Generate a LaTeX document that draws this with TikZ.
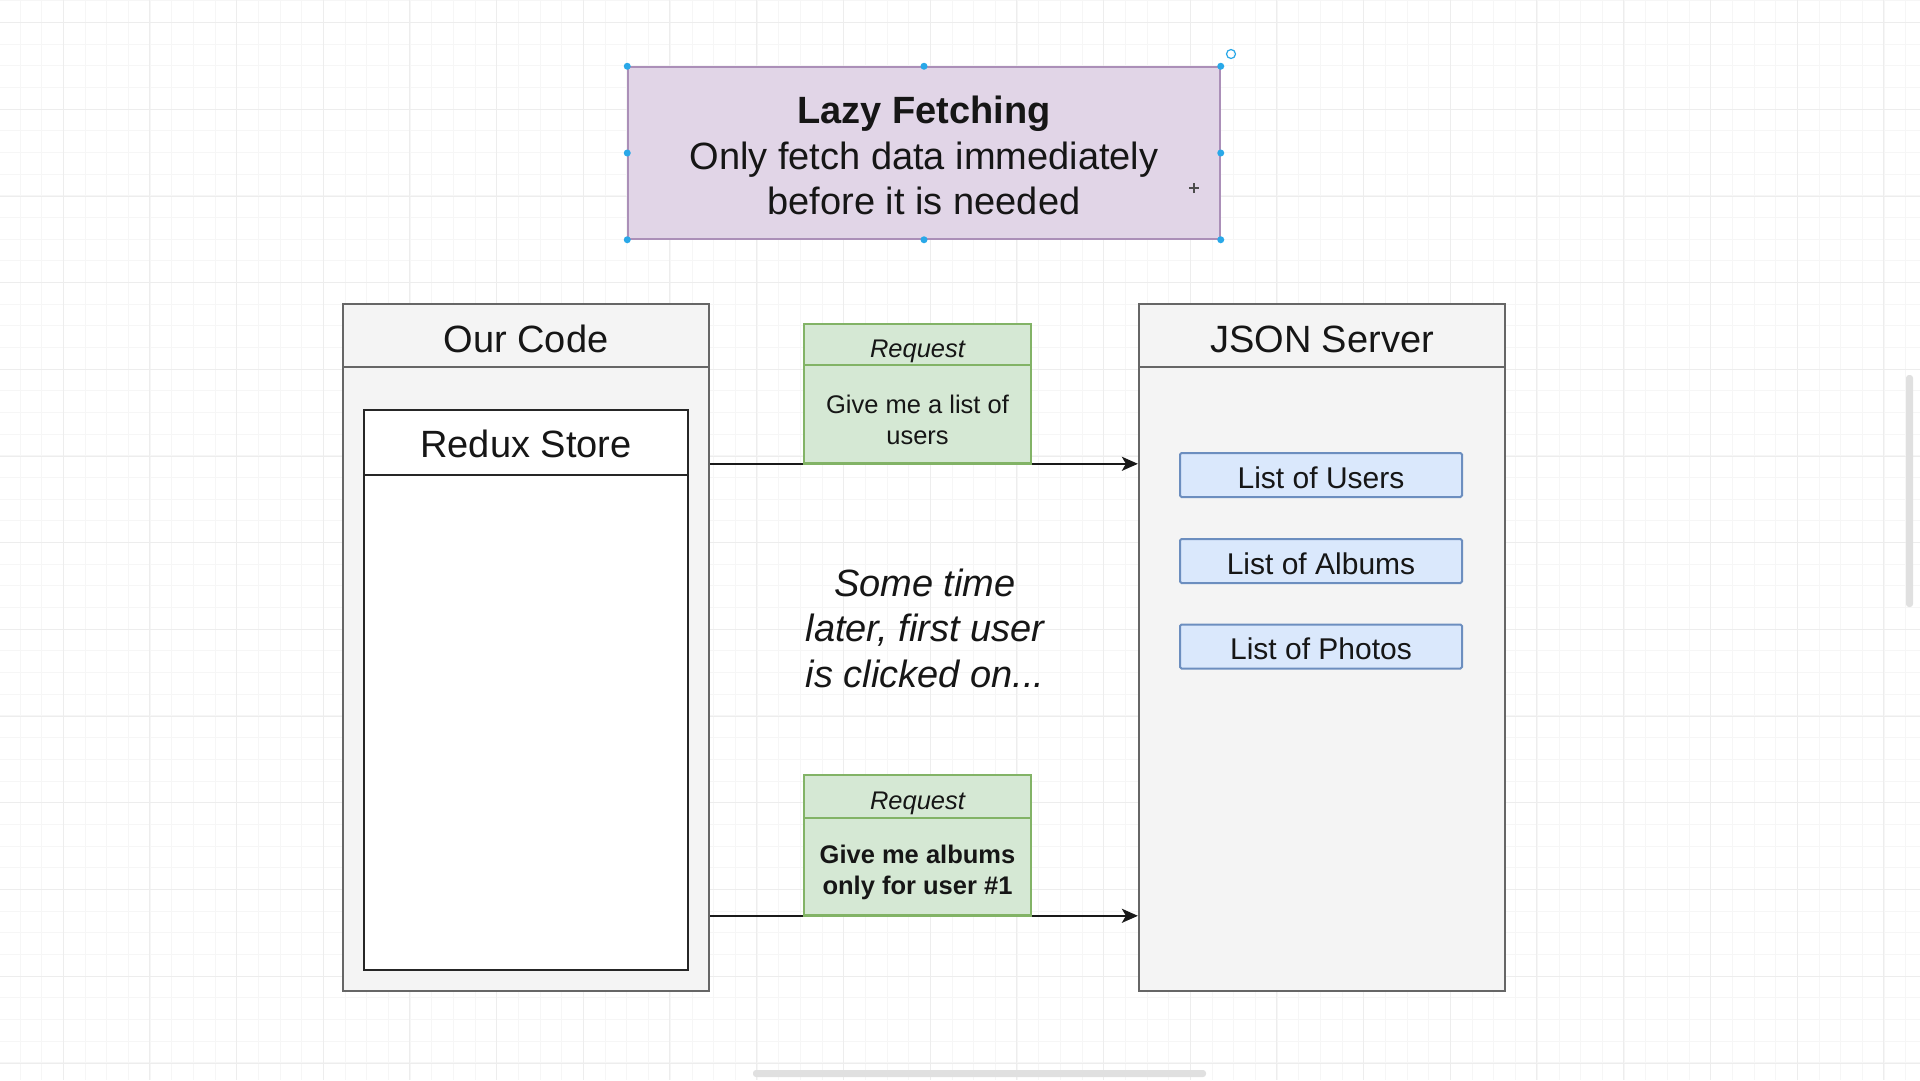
\documentclass[tikz,border=0pt]{standalone}
\usepackage{fontspec}
\setmainfont{Liberation Sans}
\usetikzlibrary{arrows.meta}
\definecolor{gridminor}{HTML}{F6F6F6}
\definecolor{gridmajor}{HTML}{EDEDED}
\definecolor{purplefill}{HTML}{E1D5E7}
\definecolor{purpleline}{HTML}{9673A6}
\definecolor{greenfill}{HTML}{D5E8D4}
\definecolor{greenline}{HTML}{82B366}
\definecolor{bluefill}{HTML}{DAE8FC}
\definecolor{blueline}{HTML}{6C8EBF}
\definecolor{grayfill}{HTML}{F4F4F4}
\definecolor{grayline}{HTML}{666666}
\definecolor{handle}{HTML}{29A8E8}
\definecolor{txt}{HTML}{161616}
\tikzset{
  big/.style={font=\fontsize{38}{45.5}\selectfont, text=txt},
  med/.style={font=\fontsize{30}{36}\selectfont, text=txt},
  small/.style={font=\fontsize{25.5}{30.5}\selectfont, text=txt},
  container/.style={draw=grayline, fill=grayfill, line width=2.2pt, inner sep=0pt},
  storebody/.style={draw=black!85, fill=white, line width=2.5pt, inner sep=0pt},
  reqbox/.style={draw=greenline, fill=greenfill, line width=1.6pt, inner sep=0pt, minimum width=227pt},
  listbox/.style={draw=blueline, fill=bluefill, line width=2pt, inner sep=0pt, minimum width=282pt, minimum height=44pt, rounded corners=1.5pt},
  label/.style={inner sep=0pt, align=center},
  hdl/.style={fill=handle, draw=none, circle, minimum size=7pt, inner sep=0pt},
  conn/.style={draw=black!90, line width=2.2pt, -{Stealth[length=16pt,width=14pt,inset=4pt]}},
}
\begin{document}
\begin{tikzpicture}[x=1pt,y=-1pt]
\useasboundingbox (0,0) rectangle (1920,1080);
\fill[white] (0,0) rectangle (1920,1080);
% grid
\foreach \i in {0,...,89} {
  \draw[gridminor, line width=0.8pt] ({-1.7+21.675*\i},0) -- ({-1.7+21.675*\i},1080);
}
\foreach \i in {0,...,50} {
  \draw[gridminor, line width=0.8pt] (0,{0.6+21.675*\i}) -- (1920,{0.6+21.675*\i});
}
\foreach \i in {0,...,22} {
  \draw[gridmajor, line width=1pt] ({-23.7+86.7*\i},0) -- ({-23.7+86.7*\i},1080);
}
\foreach \i in {0,...,12} {
  \draw[gridmajor, line width=1pt] (0,{22.6+86.7*\i}) -- (1920,{22.6+86.7*\i});
}
% scrollbars
\fill[black!12, rounded corners=3pt] (1906,375) rectangle (1913,607);
\fill[black!12, rounded corners=3pt] (753,1070) rectangle (1206,1077);

% Lazy fetching box
\node[draw=purpleline!80, fill=purplefill, line width=1.5pt, minimum width=592pt, minimum height=172pt, inner sep=0pt] (lazy) at (924,153) {};
\node[label, big] (lazytext) at ([yshift=-2.5pt]lazy.center)
  {\textbf{Lazy Fetching}\\Only fetch data immediately\\before it is needed};
\foreach \a in {north west,north,north east,west,east,south west,south,south east}
  \node[hdl] (h-\a) at (lazy.\a) {};
\node[draw=handle, line width=1.2pt, circle, minimum size=9pt, inner sep=0pt] (rot) at (1231,54) {};
\coordinate (cur) at (1194,188);
\draw[black!70, line width=2pt] ([xshift=-5pt]cur) -- ([xshift=5pt]cur) ([yshift=-5pt]cur) -- ([yshift=5pt]cur);

% Our Code container
\node[container, minimum width=366pt, minimum height=687pt] (ourcode) at (526,647.5) {};
\node[container, minimum width=366pt, minimum height=63pt] (ourcodehead) at (526,335.5) {};
\node[label, big] (ourcodetext) at ([yshift=-3.5pt]ourcodehead.center) {Our Code};
% Redux store
\node[storebody, minimum width=324pt, minimum height=560pt] (store) at (526,690) {};
\node[storebody, minimum width=324pt, minimum height=65pt] (storehead) at (526,442.5) {};
\node[label, big] (storetext) at ([yshift=-1.5pt]storehead.center) {Redux Store};

% JSON Server
\node[container, minimum width=366pt, minimum height=687pt] (json) at (1322,647.5) {};
\node[container, minimum width=366pt, minimum height=63pt] (jsonhead) at (1322,335.5) {};
\node[label, big] (jsontext) at ([yshift=-3.5pt]jsonhead.center) {JSON Server};
\node[listbox] (users) at (1321,475) {};
\node[label, med] (userstext) at ([yshift=-2.5pt]users.center) {List of Users};
\node[listbox] (albums) at (1321,561) {};
\node[label, med] (albumstext) at ([yshift=-2.5pt]albums.center) {List of Albums};
\node[listbox] (photos) at (1321,646.5) {};
\node[label, med] (photostext) at ([yshift=-2.5pt]photos.center) {List of Photos};

% Request 1
\node[reqbox, minimum height=41pt] (req1head) at (917.5,344.5) {};
\node[label, small, font=\fontsize{25.5}{30.5}\selectfont\itshape] (req1headtext) at ([yshift=-6.5pt]req1head.center) {Request};
\node[reqbox, minimum height=98pt] (req1) at (917.5,414) {};
\node[label, small] (req1text) at ([yshift=-6pt]req1.center) {Give me a list of\\users};

% Request 2
\node[reqbox, minimum height=43pt] (req2head) at (917.5,796.5) {};
\node[label, small, font=\fontsize{25.5}{30.5}\selectfont\itshape] (req2headtext) at ([yshift=-6.5pt]req2head.center) {Request};
\node[reqbox, minimum height=97pt] (req2) at (917.5,866.5) {};
\node[label, small, font=\fontsize{25.5}{30.5}\selectfont\bfseries] (req2text) at ([yshift=-6pt]req2.center) {Give me albums\\only for user \#1};

% connectors
\draw[conn] (ourcode.east |- req1.south) -- (json.west |- req1.south);
\draw[conn] (ourcode.east |- req2.south) -- (json.west |- req2.south);
\draw[greenline, line width=1.6pt] (req1.south west) -- (req1.south east);
\draw[greenline, line width=1.6pt] (req2.south west) -- (req2.south east);

% middle text
\node[label, big, font=\fontsize{38}{45.5}\selectfont\itshape] (later) at (925,628) {Some time\\later, first user\\is clicked on...};
\end{tikzpicture}
\end{document}
